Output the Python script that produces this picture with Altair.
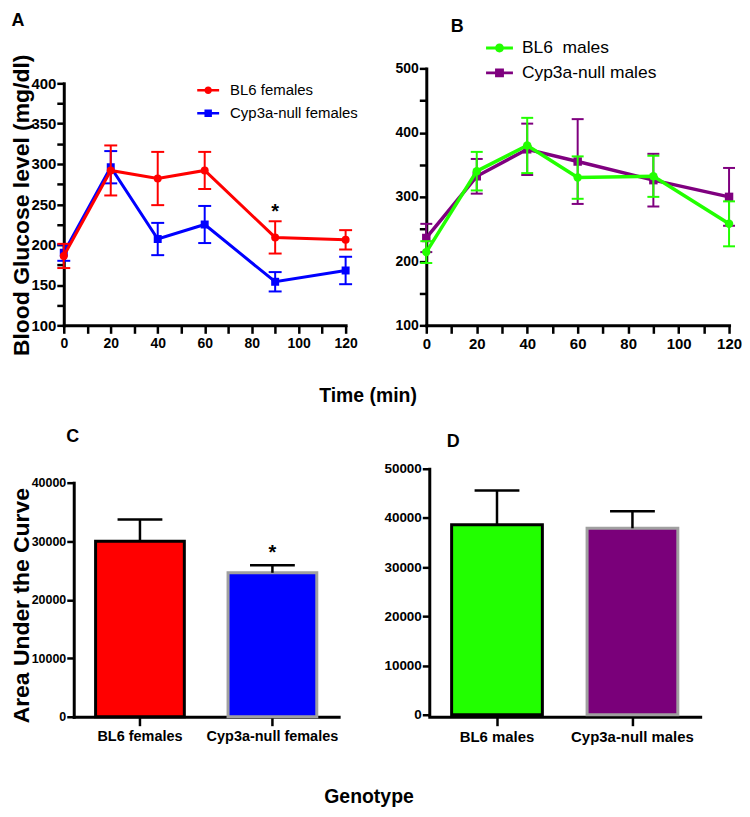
import altair as alt
import pandas as pd

# ---------------- data ----------------
time_min = [0, 20, 40, 60, 90, 120]
fem_groups = ["BL6 females", "Cyp3a-null females"]
bl6_f = [186, 292, 282, 292, 209, 206]
bl6_f_err = [15, 31, 33, 23, 20, 12]
cyp_f = [190, 296, 207, 225, 154, 168]
cyp_f_err = [10, 20, 20, 23, 12, 17]

male_groups = ["BL6\u00a0 males", "Cyp3a-null males"]
bl6_m = [214, 340, 380, 330, 332, 258]
bl6_m_err = [17, 30, 43, 33, 32, 35]
cyp_m = [236, 332, 374, 355, 326, 300]
cyp_m_err = [22, 27, 40, 66, 41, 45]

star_a_time = [90]
star_a_val = [247]

auc_f_groups = ["BL6 females", "Cyp3a-null females"]
auc_f = [30000, 24600]
auc_f_err = [3700, 1300]
star_c_group = ["Cyp3a-null females"]
star_c_val = [28900]

auc_m_groups = ["BL6 males", "Cyp3a-null males"]
auc_m = [38600, 37900]
auc_m_err = [7000, 3450]

FONT = "Liberation Sans, Arial, Helvetica, sans-serif"


def long_df(groups, vals_list, errs_list):
    rows = []
    for g, vals, errs in zip(groups, vals_list, errs_list):
        for t, v, e in zip(time_min, vals, errs):
            rows.append({"time": t, "value": v, "lo": v - e, "hi": v + e, "series": g})
    return pd.DataFrame(rows)


def legend_paths(r, h):
    line = f"M-1,-{h}H1V{h}H-1Z"
    circ = f"M{r},0A{r},{r},0,1,1,-{r},0A{r},{r},0,1,1,{r},0Z"
    sq = f"M-{r},-{r}H{r}V{r}H-{r}Z"
    return [line + " " + circ, line + " " + sq]


def panel_label(text, x, y):
    return alt.Chart(pd.DataFrame({"k": [0]})).mark_text(
        text=text, font=FONT, fontSize=18, fontWeight="bold", color="black",
        align="center", baseline="middle"
    ).encode(x=alt.value(x), y=alt.value(y))


def line_panel(df, groups, colors, paths, order, x_axis, y_axis, y_scale, legend,
               width, height, line_w, pt_size, cap_w, extra):
    cscale = alt.Scale(domain=groups, range=colors)
    sscale = alt.Scale(domain=groups, range=paths)
    xenc = alt.X("time:Q", scale=alt.Scale(domain=[0, 120], nice=False, zero=False), axis=x_axis)

    def yenc(f):
        return alt.Y(f"{f}:Q", scale=y_scale, axis=y_axis)

    color = alt.Color("series:N", scale=cscale, legend=legend)
    layers = [
        alt.Chart(alt.Data(values=[])).mark_point(filled=True, opacity=1).encode(
            color=color, shape=alt.Shape("series:N", scale=sscale, legend=legend)
        )
    ]
    base = alt.Chart(df)
    for s in order:
        b = base.transform_filter(alt.datum.series == s)
        layers.append(b.mark_rule(strokeWidth=2).encode(x=xenc, y=yenc("lo"), y2="hi:Q", color=color))
        for f in ["lo", "hi"]:
            layers.append(b.mark_tick(orient="horizontal", size=cap_w, thickness=2, opacity=1).encode(
                x=xenc, y=yenc(f), color=color))
        layers.append(b.mark_line(strokeWidth=line_w).encode(x=xenc, y=yenc("value"), color=color))
        shape = "circle" if s == groups[0] else "square"
        layers.append(b.mark_point(filled=True, shape=shape, size=pt_size, opacity=1).encode(
            x=xenc, y=yenc("value"), color=color))
    for e in extra:
        layers.append(e(xenc, yenc))
    return alt.layer(*layers).properties(width=width, height=height)


# ---------------- panel A ----------------
df_f = long_df(fem_groups, [bl6_f, cyp_f], [bl6_f_err, cyp_f_err])
axA_x = alt.Axis(values=list(range(0, 121, 10)), labelExpr="datum.value % 20 == 0 ? datum.label : ''",
                 labelFlush=False, labelOverlap=False, labelFontSize=14, tickSize=8, labelPadding=3,
                 title="Time (min)", titleX=305, titleY=70, titleFontSize=19.5, titleBaseline="middle",
                 titleAlign="center")
axA_y = alt.Axis(values=list(range(100, 401, 25)), labelExpr="datum.value % 50 == 0 ? datum.label : ''",
                 labelOverlap=False, labelFontSize=15, labelPadding=1,
                 title="Blood Glucose level (mg/dl)", titleX=-42, titleY=137, titleAngle=270,
                 titleFontSize=23, titleBaseline="middle", titleAlign="center")
legA = alt.Legend(title=None, orient="none", legendX=134, legendY=11, symbolSize=484,
                  symbolStrokeWidth=0, labelFont=FONT, labelFontSize=15, labelColor="black",
                  labelOffset=11, rowPadding=4, padding=0)


def starA(xenc, yenc):
    return alt.Chart(pd.DataFrame({"time": star_a_time, "value": star_a_val})).mark_text(
        text="*", font=FONT, fontSize=20, fontWeight="bold", color="black", baseline="middle", dy=5
    ).encode(x=xenc, y=yenc("value"))


A = line_panel(df_f, fem_groups, ["#FF0000", "#0000FF"], legend_paths(0.34, 0.12),
               [fem_groups[1], fem_groups[0]], axA_x, axA_y,
               alt.Scale(domain=[100, 400], range=[258, 15], nice=False, zero=False),
               legA, 283, 258, 3, 64, 13,
               [starA, lambda xe, ye: panel_label("A", -46, -48)])

# ---------------- panel B ----------------
df_m = long_df(male_groups, [bl6_m, cyp_m], [bl6_m_err, cyp_m_err])
axB_x = alt.Axis(values=list(range(0, 121, 10)), labelExpr="datum.value % 20 == 0 ? datum.label : ''",
                 labelFlush=False, labelOverlap=False, labelFontSize=15, tickSize=8, labelPadding=3,
                 title=None)
axB_y = alt.Axis(values=list(range(100, 501, 50)), labelExpr="datum.value % 100 == 0 ? datum.label : ''",
                 labelOverlap=False, labelFontSize=14, labelPadding=1, title=None)
legB = alt.Legend(title=None, orient="none", legendX=60, legendY=-34, symbolSize=729,
                  symbolStrokeWidth=0, labelFont=FONT, labelFontSize=17.5, labelColor="black",
                  labelOffset=9, rowPadding=3, padding=0)
B = line_panel(df_m, male_groups, ["#22FF00", "#7F007F"], legend_paths(0.33, 0.11),
               [male_groups[1], male_groups[0]], axB_x, axB_y,
               alt.Scale(domain=[100, 500], nice=False, zero=False),
               legB, 304, 258, 3.5, 72, 12,
               [lambda xe, ye: panel_label("B", 31, -42)])


# ---------------- bar panels ----------------
def bar_panel(groups, vals, errs, fills, strokes, width, height, xrange, ydom, yvals, yrange,
              yoffset, x_axis, y_label_size, y_title, label, stars):
    df = pd.DataFrame({"group": groups, "value": vals, "hi": [v + e for v, e in zip(vals, errs)]})
    xenc = alt.X("group:N", sort=groups,
                 scale=alt.Scale(domain=groups, range=xrange, paddingInner=0.33, paddingOuter=0.165),
                 axis=x_axis)
    if y_title is None:
        y_axis = alt.Axis(values=yvals, format="d", offset=yoffset, labelFontSize=y_label_size,
                          labelPadding=1, title=None)
    else:
        y_axis = alt.Axis(values=yvals, format="d", offset=yoffset, labelFontSize=y_label_size,
                          labelPadding=1, title=y_title, titleX=-52, titleY=137, titleAngle=270,
                          titleFontSize=23, titleBaseline="middle", titleAlign="center")
    yscale = alt.Scale(domain=ydom, range=yrange, nice=False, zero=True)

    def yenc(f):
        return alt.Y(f"{f}:Q", scale=yscale, axis=y_axis)

    base = alt.Chart(df)
    bars = base.mark_bar(strokeWidth=3).encode(
        x=xenc, y=yenc("value"),
        fill=alt.Fill("group:N", scale=alt.Scale(domain=groups, range=fills), legend=None),
        stroke=alt.Stroke("group:N", scale=alt.Scale(domain=groups, range=strokes), legend=None),
    )
    err = base.mark_rule(strokeWidth=2.5, color="black").encode(x=xenc, y=yenc("value"), y2="hi:Q")
    cap = base.mark_tick(orient="horizontal", size=45, thickness=2.5, color="black", opacity=1).encode(
        x=xenc, y=yenc("hi"))
    layers = [bars, err, cap]
    if stars is not None:
        sdf = pd.DataFrame({"group": stars[0], "value": stars[1]})
        layers.append(alt.Chart(sdf).mark_text(
            text="*", font=FONT, fontSize=20, fontWeight="bold", color="black", baseline="middle", dy=5
        ).encode(x=xenc, y=yenc("value")))
    layers.append(panel_label(label[0], label[1], label[2]))
    return alt.layer(*layers).properties(width=width, height=height)


axC_x = alt.Axis(labelAngle=0, labelFontSize=14.5, tickSize=9, labelPadding=4,
                 title="Genotype", titleX=306, titleY=80, titleFontSize=19.5,
                 titleBaseline="middle", titleAlign="center")
C = bar_panel(auc_f_groups, auc_f, auc_f_err, ["#FF0000", "#0000FF"], ["#000000", "#A0A0A0"],
              276, 249, [10, 276], [0, 40000], [0, 10000, 20000, 30000, 40000], [249, 14], -10,
              axC_x, 12.5, "Area Under the Curve", ("C", 9, -32), (star_c_group, star_c_val))

axD_x = alt.Axis(labelAngle=0, labelFontSize=15, tickSize=9, labelPadding=4, title=None)
D = bar_panel(auc_m_groups, auc_m, auc_m_err, ["#22FF00", "#7A007A"], ["#000000", "#A0A0A0"],
              275, 249, [3, 275], [0, 50000], [0, 10000, 20000, 30000, 40000, 50000], [247, 0], -3,
              axD_x, 13.5, None, ("D", 27, -27), None)

chart = alt.concat(
    A, B, C, D, columns=2, bounds="flush",
    spacing=alt.RowColnumber(row=144, column=81)
).resolve_scale(
    color="independent", shape="independent", fill="independent", stroke="independent"
).properties(
    padding={"left": 2, "top": 2, "right": 0, "bottom": 0}
).configure_view(stroke=None).configure_axis(
    labelFont=FONT, titleFont=FONT, labelFontWeight="bold", titleFontWeight="bold",
    labelColor="black", titleColor="black", domainColor="black", tickColor="black",
    domainWidth=3, tickWidth=2.5, tickSize=7, grid=False, domainCap="square"
)

chart.save("out.html", embed_options={"renderer": "svg", "actions": False})
